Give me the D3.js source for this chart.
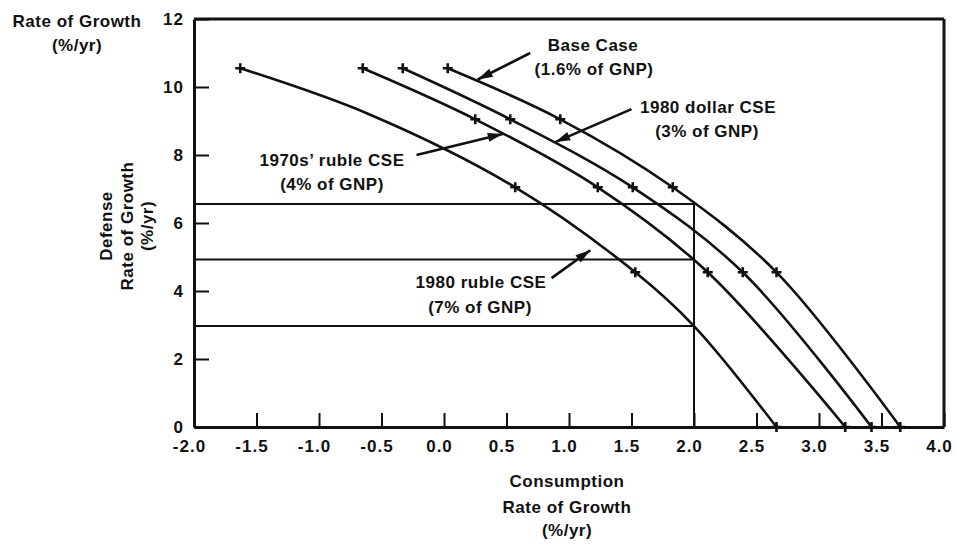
<!DOCTYPE html>
<html>
<head>
<meta charset="utf-8">
<script src="https://cdn.jsdelivr.net/npm/d3@7"></script>
<style>
  body { margin: 0; background: #fff; }
  svg text { font-family: "Liberation Sans", Arial, sans-serif; font-weight: bold; fill: #111; }
</style>
</head>
<body>
<div id="chart"></div>
<script>
(function () {

    // defense growth levels where the "+" marks sit
    var markLevels = [10.55, 9.05, 7.05, 4.55, 0];

    // the four curves: consumption growth (x) vs defense growth (y)
    var baseX = [0.03, 0.93, 1.83, 2.66, 3.65];
    var baseY = [10.55, 9.05, 7.05, 4.55, 0];
    var dollar80X = [-0.33, 0.53, 1.51, 2.39, 3.42];
    var dollar80Y = [10.55, 9.05, 7.05, 4.55, 0];
    var ruble70X = [-0.65, 0.25, 1.23, 2.11, 3.21];
    var ruble70Y = [10.55, 9.05, 7.05, 4.55, 0];
    var ruble80X = [-1.63, -0.6, 0.57, 1.53, 2.0, 2.66];
    var ruble80Y = [10.55, 9.2, 7.05, 4.55, 2.97, 0];

    // guide lines read at consumption growth 2.0
    var guideX = 2.0;
    var guideLevels = [6.56, 4.93, 2.97];

    var xTicks = [-2.0, -1.5, -1.0, -0.5, 0.0, 0.5, 1.0, 1.5, 2.0, 2.5, 3.0, 3.5, 4.0];
    var yTicks = [0, 2, 4, 6, 8, 10, 12];

    var W = 956, H = 544;
    var margin = { top: 19, right: 12, bottom: 117, left: 194 };

    var svg = d3.select("#chart").append("svg")
        .attr("width", W)
        .attr("height", H);

    var x = d3.scaleLinear().domain([-2, 4]).range([margin.left, W - margin.right]);
    var y = d3.scaleLinear().domain([0, 12]).range([H - margin.bottom, margin.top]);

    // X axis
    var xAxis = svg.append("g")
        .attr("transform", "translate(0," + y(0) + ")")
        .call(d3.axisBottom(x).tickValues(xTicks).tickSize(-14).tickSizeOuter(0)
            .tickPadding(13).tickFormat(function (d) { return d.toFixed(1); }));
    xAxis.selectAll(".tick text").attr("dx", -5);

    // Y axis
    var yAxis = svg.append("g")
        .attr("transform", "translate(" + x(-2) + ",0)")
        .call(d3.axisLeft(y).tickValues(yTicks).tickSize(-15).tickSizeOuter(0).tickPadding(10));

    [xAxis, yAxis].forEach(function (a) {
        a.attr("font-family", null).attr("font-size", null);
        a.select(".domain").attr("stroke", "#111").attr("stroke-width", 3);
        a.selectAll(".tick line").attr("stroke", "#111").attr("stroke-width", 2);
        a.selectAll(".tick text").style("font-size", "17px").style("letter-spacing", "1px");
    });

    // frame top and right
    svg.append("line")
        .attr("x1", x(-2)).attr("x2", x(4)).attr("y1", y(12)).attr("y2", y(12))
        .attr("stroke", "#111").attr("stroke-width", 3);
    svg.append("line")
        .attr("x1", x(4)).attr("x2", x(4)).attr("y1", y(0)).attr("y2", y(12))
        .attr("stroke", "#111").attr("stroke-width", 3);

    // guide lines
    svg.selectAll(".guide")
        .data(guideLevels)
        .enter()
        .append("line")
        .attr("x1", x(-2)).attr("x2", x(guideX))
        .attr("y1", function (d) { return y(d); })
        .attr("y2", function (d) { return y(d); })
        .attr("stroke", "#111").attr("stroke-width", 2);
    svg.append("line")
        .attr("x1", x(guideX)).attr("x2", x(guideX))
        .attr("y1", y(0)).attr("y2", y(d3.max(guideLevels)))
        .attr("stroke", "#111").attr("stroke-width", 2);

    // curves
    var series = [
        [baseX, baseY],
        [dollar80X, dollar80Y],
        [ruble70X, ruble70Y],
        [ruble80X, ruble80Y]
    ].map(function (s) {
        return s[0].map(function (v, i) { return { x: v, y: s[1][i] }; });
    });

    var line = d3.line()
        .x(function (d) { return x(d.x); })
        .y(function (d) { return y(d.y); })
        .curve(d3.curveCatmullRom.alpha(0.5));

    svg.selectAll(".curve")
        .data(series)
        .enter()
        .append("path")
        .attr("d", line)
        .attr("fill", "none")
        .attr("stroke", "#111")
        .attr("stroke-width", 2.6);

    // "+" marks
    var marks = [];
    series.forEach(function (s) {
        s.forEach(function (p) { if (markLevels.indexOf(p.y) >= 0) marks.push(p); });
    });
    svg.selectAll(".mark")
        .data(marks)
        .enter()
        .append("path")
        .attr("d", "M-5,0H5M0,-5V5")
        .attr("transform", function (d) { return "translate(" + x(d.x) + "," + y(d.y) + ")"; })
        .attr("stroke", "#111")
        .attr("stroke-width", 2.6);

    // text helper
    function label(px, py, txt, size) {
        svg.append("text")
            .attr("x", px).attr("y", py)
            .attr("text-anchor", "middle")
            .style("font-size", (size || 17) + "px")
            .style("letter-spacing", "0.5px")
            .text(txt);
    }

    // axis titles
    label(77, 27, "Rate of Growth");
    label(77, 51, "(%/yr)");
    label(567, 487, "Consumption");
    label(567, 513, "Rate of Growth");
    label(567, 536, "(%/yr)");

    var yTitle = svg.append("g").attr("transform", "translate(0,226)");
    [["Defense", 106], ["Rate of Growth", 127], ["(%/yr)", 147]].forEach(function (t) {
        yTitle.append("text")
            .attr("transform", "translate(" + t[1] + ",0) rotate(-90)")
            .attr("text-anchor", "middle")
            .attr("dy", "0.35em")
            .style("font-size", "17px")
            .style("letter-spacing", "0.5px")
            .text(t[0]);
    });

    // annotations
    label(593, 51, "Base Case");
    label(594, 75, "(1.6% of GNP)");
    label(708, 113, "1980 dollar CSE");
    label(707, 137, "(3% of GNP)");
    label(332, 166, "1970s\u2019 ruble CSE");
    label(332, 190, "(4% of GNP)");
    label(481, 288, "1980 ruble CSE");
    label(480, 313, "(7% of GNP)");

    // leader arrows: [tail, head] in data units
    var arrows = [
        [[0.69, 11.0], [0.27, 10.22]],
        [[1.50, 9.35], [0.89, 8.38]],
        [[-0.22, 8.0], [0.47, 8.62]],
        [[0.86, 4.38], [1.17, 5.2]]
    ];
    arrows.forEach(function (a) {
        var x1 = x(a[0][0]), y1 = y(a[0][1]), x2 = x(a[1][0]), y2 = y(a[1][1]);
        var ang = Math.atan2(y2 - y1, x2 - x1);
        svg.append("line")
            .attr("x1", x1).attr("y1", y1).attr("x2", x2).attr("y2", y2)
            .attr("stroke", "#111").attr("stroke-width", 2.6);
        var len = 15, hw = 4.5;
        var bx = x2 - len * Math.cos(ang), by = y2 - len * Math.sin(ang);
        var px = -Math.sin(ang) * hw, py = Math.cos(ang) * hw;
        svg.append("path")
            .attr("d", "M" + x2 + "," + y2 + "L" + (bx + px) + "," + (by + py) + "L" + (bx - px) + "," + (by - py) + "Z")
            .attr("fill", "#111");
    });

})();
</script>
</body>
</html>
